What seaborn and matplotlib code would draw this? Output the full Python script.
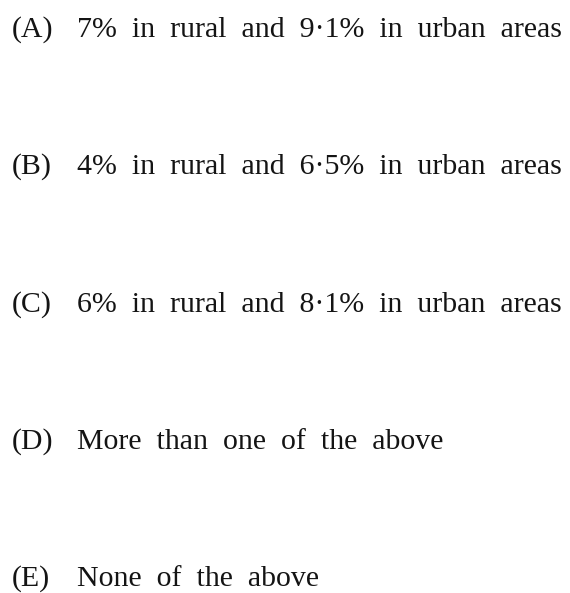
import matplotlib
matplotlib.use("Agg")
import matplotlib.pyplot as plt
import seaborn as sns

option_labels = ["(A)", "(B)", "(C)", "(D)", "(E)"]
option_texts = [
    "7% in rural and 9·1% in urban areas",
    "4% in rural and 6·5% in urban areas",
    "6% in rural and 8·1% in urban areas",
    "More than one of the above",
    "None of the above",
]

sns.set_theme(style="white")
plt.rcParams["font.family"] = ["Liberation Serif", "DejaVu Serif"]

W, H = 570, 593
fig = plt.figure(figsize=(W / 100, H / 100), dpi=100)
fig.patch.set_facecolor("white")

baselines = [37, 174, 312, 449, 586]
fs = 21.5
color = "#141414"
for lab, txt, b in zip(option_labels, option_texts, baselines):
    y = 1 - b / H
    wide = "  ".join(txt.split(" "))
    fig.text(12 / W, y, lab, fontsize=fs, color=color, va="baseline", ha="left")
    fig.text(77 / W, y, wide, fontsize=fs, color=color, va="baseline", ha="left")

fig.savefig("out.png", dpi=100, facecolor="white")
